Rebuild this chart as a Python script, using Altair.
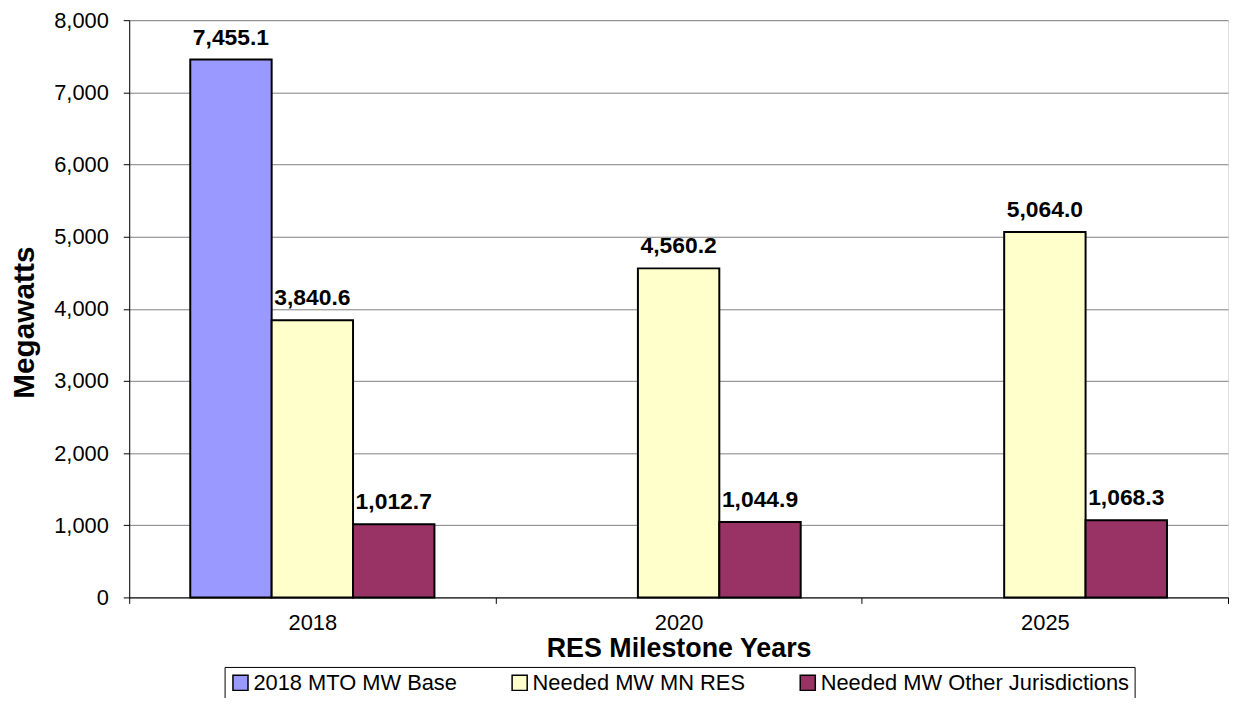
import altair as alt
import pandas as pd

years = ["2018", "2020", "2025"]
series = ["2018 MTO MW Base", "Needed MW MN RES", "Needed MW Other Jurisdictions"]
base_mw = [7455.1, None, None]
mn_res_mw = [3840.6, 4560.2, 5064.0]
other_mw = [1012.7, 1044.9, 1068.3]
colors = ["#9999FF", "#FFFFCC", "#993366"]
y_ticks = [0, 1000, 2000, 3000, 4000, 5000, 6000, 7000, 8000]

rows = []
for s, vals in zip(series, [base_mw, mn_res_mw, other_mw]):
    for yr, v in zip(years, vals):
        if v is not None:
            rows.append({"Year": yr, "Series": s, "MW": v})
df = pd.DataFrame(rows)

FONT = "Liberation Sans"

base = alt.Chart(df).encode(
    x=alt.X(
        "Year:N",
        sort=years,
        scale=alt.Scale(paddingInner=0, paddingOuter=0),
        axis=alt.Axis(
            title="RES Milestone Years",
            labelAngle=0,
            tickBand="extent",
            ticks=True,
            tickSize=6,
            tickColor="black",
            domainColor="black",
            labelFontSize=22,
            labelFont=FONT,
            labelColor="black",
            labelPadding=9,
            titleFont=FONT,
            titleFontSize=27,
            titleFontWeight="bold",
            titleColor="black",
            titlePadding=2,
            grid=False,
        ),
    ),
    xOffset=alt.XOffset(
        "Series:N",
        sort=series,
        scale=alt.Scale(domain=series, paddingInner=0, paddingOuter=0.75),
    ),
    y=alt.Y(
        "MW:Q",
        scale=alt.Scale(domain=[0, 8000], nice=False),
        axis=alt.Axis(
            title="Megawatts",
            values=y_ticks,
            format=",.0f",
            tickSize=6,
            tickColor="black",
            domainColor="black",
            gridColor="#808080",
            gridWidth=1,
            labelFontSize=22,
            labelFont=FONT,
            labelColor="black",
            labelPadding=15,
            titleFont=FONT,
            titleFontSize=30,
            titleFontWeight="bold",
            titleColor="black",
            titleX=-105,
            titleY=304,
            titleBaseline="middle",
        ),
    ),
)

bars = base.mark_bar(stroke="black", strokeWidth=2).encode(
    color=alt.Color(
        "Series:N",
        sort=series,
        scale=alt.Scale(domain=series, range=colors),
        legend=alt.Legend(
            title=None,
            orient="none",
            legendX=96,
            legendY=651,
            direction="horizontal",
            columns=3,
            columnPadding=52,
            symbolType="square",
            symbolSize=230,
            symbolStrokeColor="black",
            symbolStrokeWidth=1.5,
            labelFont=FONT,
            labelFontSize=22,
            labelColor="black",
            labelOffset=2,
            labelLimit=400,
            padding=5,
            strokeColor="black",
            fillColor="white",
        ),
    )
)

labels = base.mark_text(
    font=FONT, fontSize=23, fontWeight="bold", color="black",
    baseline="alphabetic", dy=-15,
).encode(text=alt.Text("MW:Q", format=",.1f"))

chart = (
    alt.layer(bars, labels)
    .properties(
        width=1106,
        height=581,
        autosize=alt.AutoSizeParams(type="none"),
        padding={"left": 122, "top": 10, "right": 2, "bottom": 99},
    )
    .configure_view(fill="#C0C0C0", stroke="#808080", strokeWidth=2)
    .configure(background="white")
)

chart.save("out.html", embed_options={"renderer": "svg", "actions": False})
